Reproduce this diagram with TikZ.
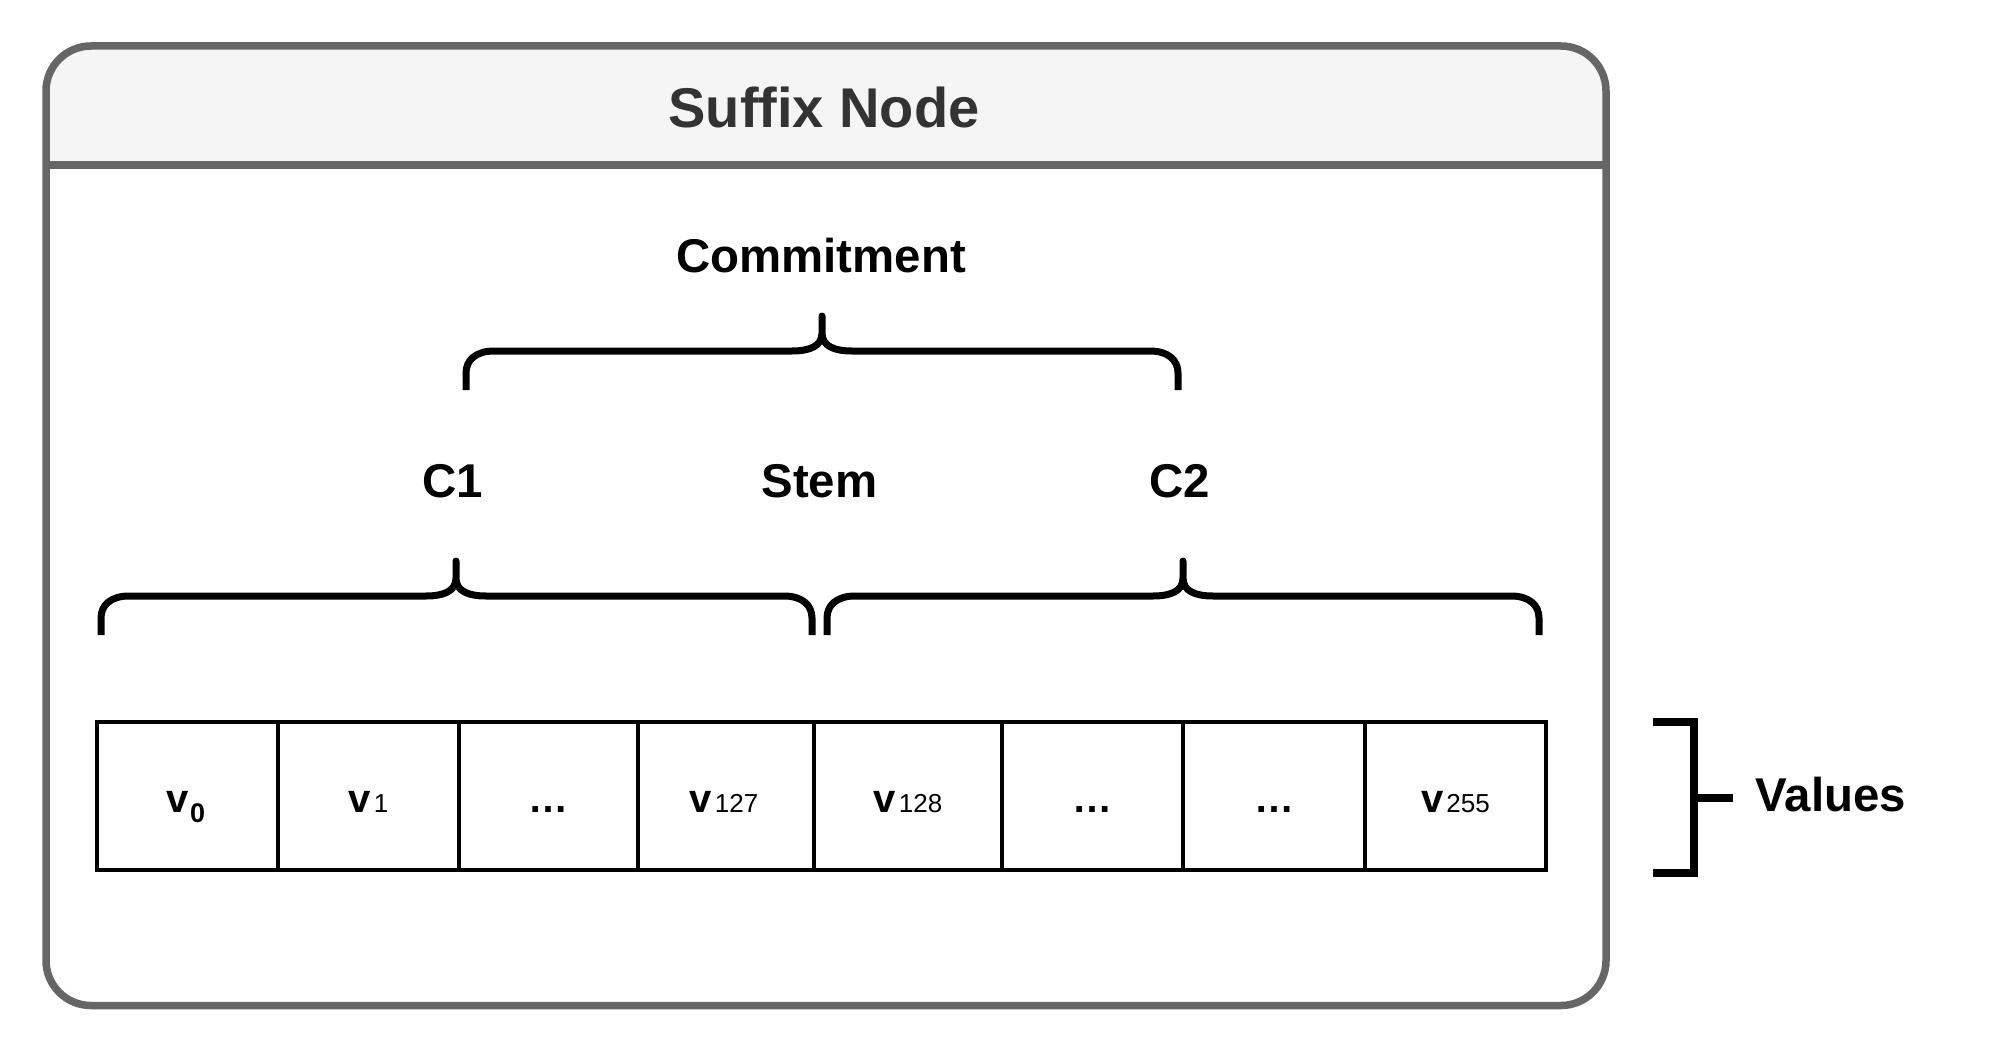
\documentclass[tikz,border=0pt]{standalone}
\usepackage{fontspec}
\setmainfont{Liberation Sans}
\definecolor{boxgray}{HTML}{666666}
\definecolor{hdrfill}{HTML}{F5F5F5}
\definecolor{titlegray}{HTML}{333333}
\newcommand{\drawbrace}[5]{%
  \draw[bracestyle] (#2,{#5+74}) -- (#2,{#5+57})
    .. controls (#2,{#5+44}) and ({#2+10},{#5+35}) .. ({#2+28},{#5+35})
    -- ({#3-30},{#5+35})
    .. controls ({#3-12},{#5+35}) and (#3,{#5+30}) .. (#3,{#5+17})
    -- (#3,#5) -- (#3,{#5+17})
    .. controls (#3,{#5+30}) and ({#3+12},{#5+35}) .. ({#3+30},{#5+35})
    -- ({#4-28},{#5+35})
    .. controls ({#4-10},{#5+35}) and (#4,{#5+44}) .. (#4,{#5+57})
    -- (#4,{#5+74});
  \coordinate (#1) at (#3,#5);
}
\newcommand{\vlab}[1]{{\fontsize{20}{22}\selectfont\bfseries v}\kern1.5pt{\fontsize{13}{15}\selectfont #1}}
\begin{document}
\begin{tikzpicture}[x=0.5pt,y=-0.5pt,
  lbl/.style={font=\fontsize{23.7}{28}\selectfont\bfseries, inner sep=0, anchor=base, text=black},
  celltxt/.style={inner sep=0, anchor=base, text=black},
  cellbox/.style={draw=black, line width=2pt, inner sep=0, minimum height=74pt},
  bracestyle/.style={draw=black, line width=3.5pt, line join=round, line cap=butt},
  valbracket/.style={draw=black, line width=3.8pt, line join=miter, line cap=butt}]
\useasboundingbox (0,0) rectangle (1996,1048);
% container
\begin{scope}
  \clip (46,46) rectangle (1606,165);
  \fill[hdrfill, rounded corners=22.5pt] (46,46) rectangle (1606,1005.5);
\end{scope}
\draw[boxgray, line width=3.75pt, rounded corners=22.5pt] (46,46) rectangle (1606,1005.5);
\draw[boxgray, line width=3.75pt] (46,165) -- (1606,165);
\node[font=\fontsize{28}{32}\selectfont\bfseries, text=titlegray, inner sep=0, anchor=base] (title) at (824,128) {Suffix Node};
% braces
\drawbrace{tipcommit}{466}{822}{1178}{316}
\drawbrace{tipc1}{101}{456}{812}{561}
\drawbrace{tipc2}{827}{1183}{1539}{561}
\node[lbl] (commit) at (821,272) {Commitment};
\node[lbl] (c1) at (453,497) {C1};
\node[lbl] (stem) at (819.5,497) {Stem};
\node[lbl] (c2) at (1180,497) {C2};
% cells
\node[cellbox, minimum width=90.5pt] (cell1) at (187.5,796) {};
\node[cellbox, minimum width=90.5pt] (cell2) at (368.5,796) {};
\node[cellbox, minimum width=89.5pt] (cell3) at (548.5,796) {};
\node[cellbox, minimum width=88pt] (cell4) at (726,796) {};
\node[cellbox, minimum width=94pt] (cell5) at (908,796) {};
\node[cellbox, minimum width=90.5pt] (cell6) at (1092.5,796) {};
\node[cellbox, minimum width=91pt] (cell7) at (1274,796) {};
\node[cellbox, minimum width=90.5pt] (cell8) at (1455.5,796) {};
\node[celltxt] (t1) at (186,812) {{\fontsize{20}{22}\selectfont\bfseries v}\kern0.5pt\raisebox{-5pt}{\fontsize{13.5}{15}\selectfont\bfseries 0}};
\node[celltxt] (t2) at (368.5,812) {\vlab{1}};
\node[celltxt, font=\fontsize{20}{22}\selectfont\bfseries] (t3) at (548.5,812) {…};
\node[celltxt] (t4) at (724,812) {\vlab{127}};
\node[celltxt] (t5) at (908,812) {\vlab{128}};
\node[celltxt, font=\fontsize{20}{22}\selectfont\bfseries] (t6) at (1092.5,812) {…};
\node[celltxt, font=\fontsize{20}{22}\selectfont\bfseries] (t7) at (1274,812) {…};
\node[celltxt] (t8) at (1455.5,812) {\vlab{255}};
% values bracket
\coordinate (vb1) at (1653,722);
\coordinate (vb2) at (1694,722);
\coordinate (vb3) at (1694,873);
\coordinate (vb4) at (1653,873);
\coordinate (vtick) at (1694,798);
\coordinate (vtickend) at (1733,798);
\draw[valbracket] (vb1) -- (vb2) -- (vb3) -- (vb4);
\draw[valbracket] (vtick) -- (vtickend);
\node[lbl] (values) at (1831,811) {Values};
\end{tikzpicture}
\end{document}
